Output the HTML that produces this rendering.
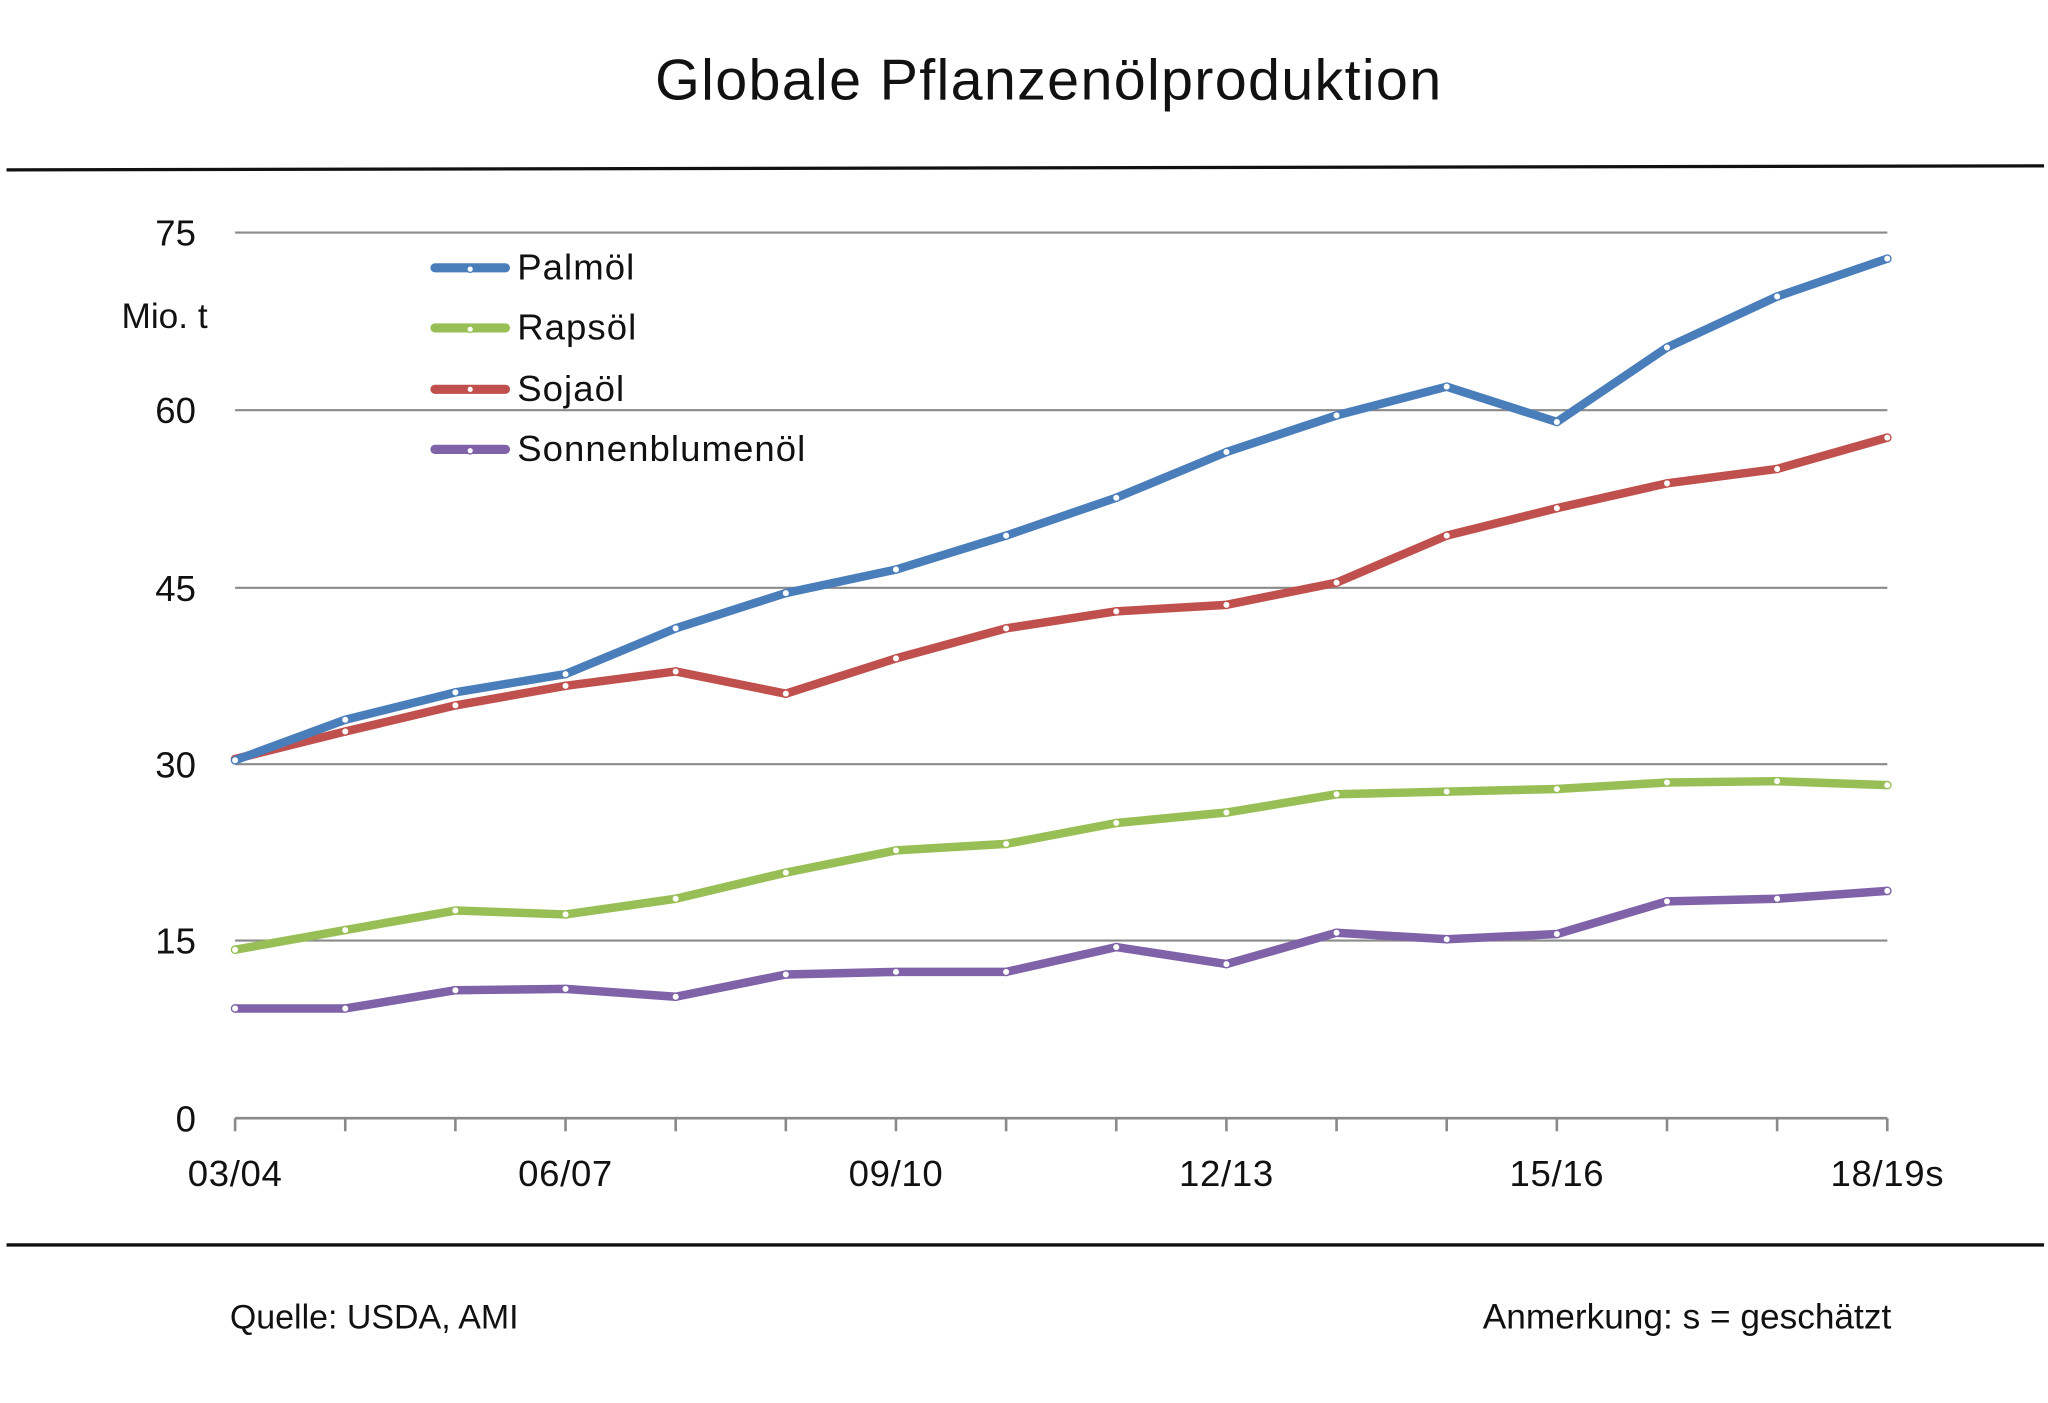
<!DOCTYPE html>
<html><head><meta charset="utf-8"><style>
html,body{margin:0;padding:0;background:#fff}
svg{display:block}
text{font-family:"Liberation Sans","DejaVu Sans",sans-serif;fill:#111}
</style></head><body>
<svg width="2048" height="1403" viewBox="0 0 1568 1074" preserveAspectRatio="none" xmlns="http://www.w3.org/2000/svg">
<text x="803" y="76" font-size="44" text-anchor="middle" letter-spacing="1">Globale Pflanzenölproduktion</text>
<line x1="5" y1="130" x2="1565" y2="127" stroke="#111" stroke-width="2.5"/>
<line x1="5" y1="953" x2="1565" y2="953" stroke="#111" stroke-width="2.5"/>
<g stroke="#8a8a8a" stroke-width="1.6">
<line x1="180" y1="178" x2="1445" y2="178"/>
<line x1="180" y1="314" x2="1445" y2="314"/>
<line x1="180" y1="450" x2="1445" y2="450"/>
<line x1="180" y1="585" x2="1445" y2="585"/>
<line x1="180" y1="720" x2="1445" y2="720"/>
<line x1="180" y1="856" x2="1445" y2="856" stroke-width="2"/>
</g>
<g id="ticks" stroke="#8a8a8a" stroke-width="2"></g>
<g font-size="28" text-anchor="end">
<text x="150" y="188">75</text><text x="150" y="324">60</text><text x="150" y="460">45</text>
<text x="150" y="595">30</text><text x="150" y="730">15</text><text x="150" y="866">0</text>
</g>
<text x="93" y="251" font-size="27">Mio. t</text>
<g font-size="28" text-anchor="middle" letter-spacing="0.5">
<text x="180" y="908">03/04</text><text x="433" y="908">06/07</text><text x="686" y="908">09/10</text>
<text x="939" y="908">12/13</text><text x="1192" y="908">15/16</text><text x="1445" y="908">18/19s</text>
</g>
<g id="series"></g>
<g font-size="28" stroke-linecap="round" letter-spacing="0.8">
<line x1="333" y1="205" x2="387" y2="205" stroke="#4a7ebb" stroke-width="7"/><circle cx="360" cy="206" r="2.5" fill="#fff" stroke="#4a7ebb"/>
<text x="396" y="214">Palmöl</text>
<line x1="333" y1="251" x2="387" y2="251" stroke="#98bf55" stroke-width="7"/><circle cx="360" cy="252" r="2.5" fill="#fff" stroke="#98bf55"/>
<text x="396" y="260">Rapsöl</text>
<line x1="333" y1="298" x2="387" y2="298" stroke="#c0504d" stroke-width="7"/><circle cx="360" cy="298" r="2.5" fill="#fff" stroke="#c0504d"/>
<text x="396" y="307">Sojaöl</text>
<line x1="333" y1="344" x2="387" y2="344" stroke="#7f62a8" stroke-width="7"/><circle cx="360" cy="345" r="2.5" fill="#fff" stroke="#7f62a8"/>
<text x="396" y="353">Sonnenblumenöl</text>
</g>
<text x="176" y="1017" font-size="26">Quelle: USDA, AMI</text>
<text x="1448" y="1017" font-size="27" text-anchor="end">Anmerkung: s = geschätzt</text>
<script>
(function(){
var ns="http://www.w3.org/2000/svg";
var t=document.getElementById("ticks");
for(var i=0;i<16;i++){var x=180+i*84.33;var l=document.createElementNS(ns,"line");
l.setAttribute("x1",x);l.setAttribute("x2",x);l.setAttribute("y1",856);l.setAttribute("y2",866);t.appendChild(l);}
var S=[
["#7f62a8",[772,772,758,757,763,746,744,744,725,738,714,719,715,690,688,682]],
["#98bf55",[727,712,697,700,688,668,651,646,630,622,608,606,604,599,598,601]],
["#c0504d",[581,560,540,525,514,531,504,481,468,463,446,410,389,370,359,335]],
["#4a7ebb",[582,551,530,516,481,454,436,410,381,346,318,296,323,266,227,198]]];
var g=document.getElementById("series");
S.forEach(function(s){
var pts=s[1].map(function(y,i){return (180+i*84.33).toFixed(1)+","+y;}).join(" ");
var p=document.createElementNS(ns,"polyline");
p.setAttribute("points",pts);p.setAttribute("fill","none");p.setAttribute("stroke",s[0]);
p.setAttribute("stroke-width","6.5");p.setAttribute("stroke-linejoin","round");p.setAttribute("stroke-linecap","round");
g.appendChild(p);
s[1].forEach(function(y,i){var c=document.createElementNS(ns,"circle");
c.setAttribute("cx",180+i*84.33);c.setAttribute("cy",y);c.setAttribute("r","2.8");
c.setAttribute("fill","#fff");c.setAttribute("stroke",s[0]);c.setAttribute("stroke-width","1");g.appendChild(c);});
});
})();
</script>
</svg>
</body></html>
